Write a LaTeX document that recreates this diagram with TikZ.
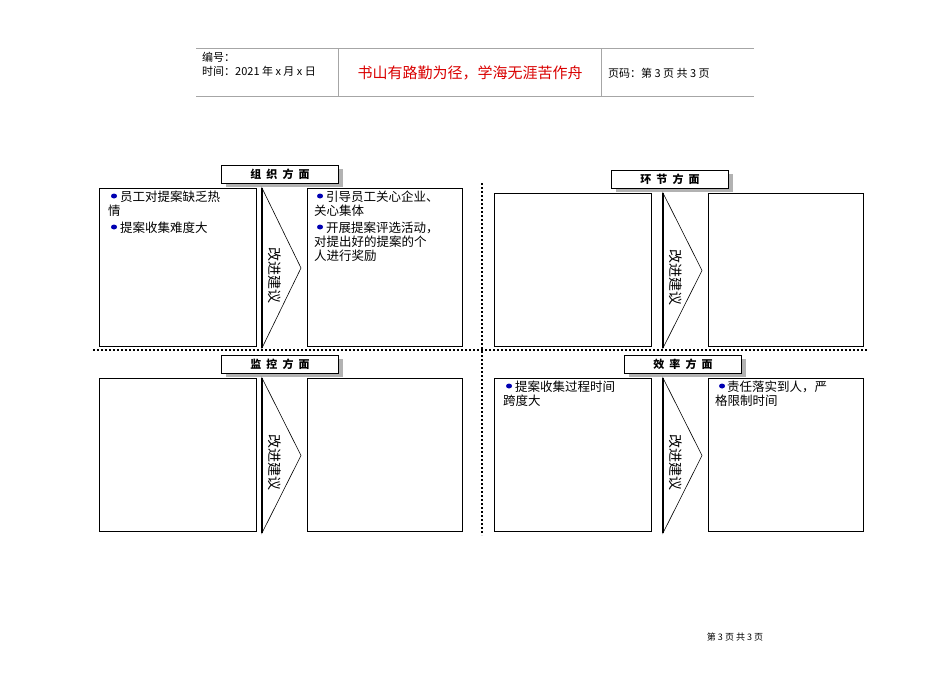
\documentclass[tikz,border=0pt]{standalone}
\usepackage{fontspec}
\setmainfont{Noto Sans CJK SC}
\usetikzlibrary{shapes.geometric}
\begin{document}
\begin{tikzpicture}[x=1pt,y=-1pt,
 hline/.style={draw=gray!70,line width=0.8pt},
 box/.style={draw=black,line width=0.6pt},
 ttl/.style={draw=black,fill=white,line width=0.6pt,minimum width=117pt,minimum height=18pt,inner sep=0pt,font=\fontsize{11}{11}\selectfont\bfseries},
 shd/.style={fill=gray!60},
 txt/.style={anchor=north west,align=left,text width=150pt,inner sep=0pt,font=\fontsize{12.5}{14}\selectfont},
 dot/.style={draw=none,fill=blue!70!black,ellipse,inner sep=0pt,minimum width=6pt,minimum height=5pt},
 sep/.style={dotted,line width=2pt,line cap=butt}]
\useasboundingbox (0,0) rectangle (950,672);
% header
\draw[hline] (196,48) -- (754,48);
\draw[hline] (196,96) -- (754,96);
\draw[hline] (338,48) -- (338,96);
\draw[hline] (601,48) -- (601,96);
\node[anchor=west,inner sep=0pt,font=\fontsize{11}{11}\selectfont] (h1) at (202,57) {编号：};
\node[anchor=west,inner sep=0pt,font=\fontsize{11}{11}\selectfont] (h2) at (202,71) {时间：2021 年 x 月 x 日};
\node[inner sep=0pt,text=red!85!black,font=\fontsize{15}{15}\selectfont] (h3) at (470,73) {书山有路勤为径，学海无涯苦作舟};
\node[anchor=west,inner sep=0pt,font=\fontsize{11}{11}\selectfont] (h4) at (608,73) {页码：第 3 页 共 3 页};
% separators
\draw[sep] (93,350) -- (867,350);
\draw[sep] (482,183) -- (482,535);
\newcommand{\quadrant}[9]{%
 \fill[shd] (#4-54,#5-5) rectangle (#4+63,#5+13);
 \node[ttl] (#7t) at (#4,#5) {#6};
 \draw[box] (#1,#2) rectangle (#1+157,#3);
 \draw[box] (#9,#2) rectangle (#9+155,#3);
 \coordinate (#7a) at (#8,#2);
 \coordinate (#7b) at (#8,#3+2);
 \coordinate (#7c) at (#8+39,{(#2+#3)/2+1});
 \draw[box] (#7a) -- (#7b) -- (#7c) -- cycle;
 \draw[line width=1.2pt] (#7a) -- (#7b);
 \node[rotate=-90,inner sep=0pt,font=\fontsize{14}{14}\selectfont] (#7l) at (#8+13,{(#2+#3)/2+8}) {改进建议};
}
\quadrant{99}{188}{346}{280}{174}{组\ \ 织\ \ 方\ \ 面}{A}{262}{307}
\quadrant{494}{193}{346}{670}{179}{环\ \ 节\ \ 方\ \ 面}{B}{663}{708}
\quadrant{99}{378}{531}{280}{364}{监\ \ 控\ \ 方\ \ 面}{C}{262}{307}
\quadrant{494}{378}{531}{683}{364}{效\ \ 率\ \ 方\ \ 面}{D}{663}{708}
% texts
\node[txt] (t1) at (108,191) {\hspace*{12pt}员工对提案缺乏热\\情};
\node[dot] (d1) at (114,196) {};
\node[txt] (t2) at (108,222) {\hspace*{12pt}提案收集难度大};
\node[dot] (d2) at (114,227) {};
\node[txt] (t3) at (314,191) {\hspace*{12pt}引导员工关心企业、\\关心集体};
\node[dot] (d3) at (320,196) {};
\node[txt] (t4) at (314,222) {\hspace*{12pt}开展提案评选活动，\\对提出好的提案的个\\人进行奖励};
\node[dot] (d4) at (320,227) {};
\node[txt] (t5) at (503,381) {\hspace*{12pt}提案收集过程时间\\跨度大};
\node[dot] (d5) at (509,386) {};
\node[txt] (t6) at (715,381) {\hspace*{12pt}责任落实到人，严\\格限制时间};
\node[dot] (d6) at (722,386) {};
% footer
\node[inner sep=0pt,font=\fontsize{9}{9}\selectfont] (f) at (735,637) {第 3 页 共 3 页};
\end{tikzpicture}
\end{document}
